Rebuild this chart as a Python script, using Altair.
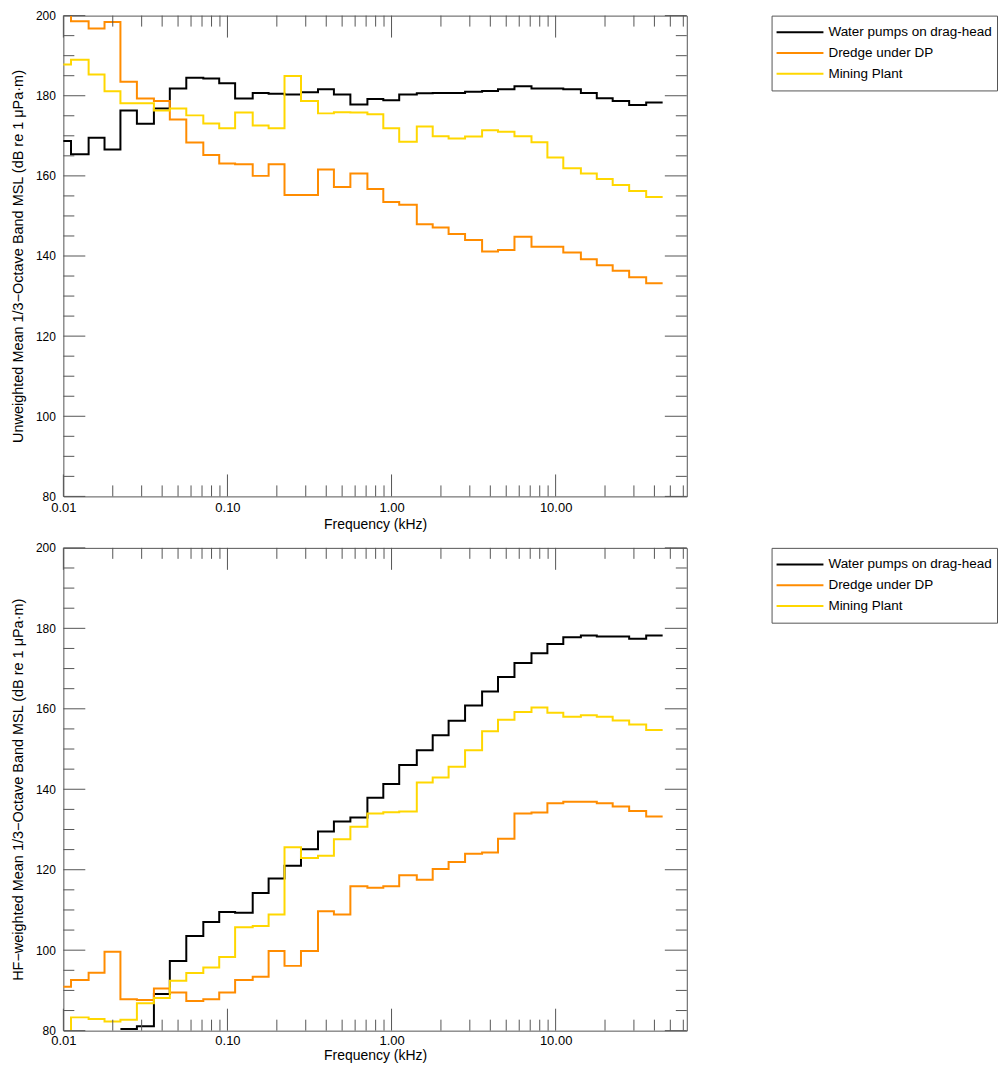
import altair as alt
import pandas as pd

# ---------------- data ----------------
FREQ_KHZ = [0.01, 0.0125, 0.016, 0.02, 0.025, 0.0315, 0.04, 0.05, 0.063, 0.08,
            0.1, 0.125, 0.16, 0.2, 0.25, 0.315, 0.4, 0.5, 0.63, 0.8,
            1.0, 1.25, 1.6, 2.0, 2.5, 3.15, 4.0, 5.0, 6.3, 8.0,
            10.0, 12.5, 16.0, 20.0, 25.0, 31.5, 40.0]

SERIES = ["Water pumps on drag-head", "Dredge under DP", "Mining Plant"]
COLORS = ["#000000", "#FF8C00", "#FFD700"]

# Unweighted (top panel)
TOP_PUMPS = [168.7, 165.4, 169.5, 166.6, 176.3, 173.0, 176.8, 181.8, 184.5, 184.3,
             183.1, 179.3, 180.7, 180.5, 180.3, 180.9, 181.6, 180.3, 177.8, 179.2,
             178.9, 180.3, 180.6, 180.7, 180.7, 181.0, 181.2, 181.6, 182.4, 181.8,
             181.8, 181.6, 180.7, 179.4, 178.7, 177.7, 178.3]
TOP_DREDGE = [201.0, 198.6, 196.8, 198.4, 183.5, 179.3, 178.7, 174.1, 168.3, 165.2,
              163.1, 162.9, 160.0, 162.9, 155.2, 155.2, 161.6, 157.2, 160.6, 156.7,
              153.5, 152.8, 147.9, 147.1, 145.5, 144.0, 141.1, 141.5, 144.8, 142.3,
              142.3, 140.9, 139.2, 137.7, 136.3, 134.7, 133.2]
TOP_MINING = [187.8, 189.0, 185.3, 181.1, 178.1, 178.1, 176.3, 176.8, 175.1, 173.1,
              171.9, 175.8, 172.6, 171.9, 184.9, 178.7, 175.6, 175.9, 175.8, 175.4,
              171.9, 168.5, 172.3, 169.9, 169.3, 169.8, 171.4, 171.0, 169.9, 168.4,
              164.6, 161.9, 160.6, 159.2, 157.7, 156.2, 154.7]

# HF-weighted (bottom panel)
BOT_PUMPS = [None, None, None, None, 80.4, 81.1, 89.1, 97.3, 103.5, 107.0,
             109.5, 109.3, 114.2, 117.8, 121.0, 125.1, 129.5, 132.0, 133.0, 137.9,
             141.3, 146.0, 149.7, 153.4, 157.0, 160.8, 164.3, 167.9, 171.4, 173.8,
             176.1, 177.8, 178.2, 178.0, 178.0, 177.4, 178.2]
BOT_DREDGE = [90.9, 92.6, 94.4, 99.6, 87.8, 87.6, 90.5, 89.5, 87.4, 87.8,
              89.5, 92.6, 93.4, 99.8, 96.1, 99.8, 109.7, 108.9, 115.9, 115.5,
              115.9, 118.6, 117.5, 120.2, 121.9, 124.0, 124.3, 127.7, 134.0, 134.2,
              136.5, 136.9, 136.9, 136.5, 135.7, 134.6, 133.2]
BOT_MINING = [79.0, 83.3, 82.9, 82.3, 82.7, 86.8, 88.1, 92.4, 94.3, 95.7,
              98.3, 105.7, 106.0, 108.9, 125.6, 122.9, 123.5, 127.6, 130.7, 134.0,
              134.3, 134.5, 141.7, 142.9, 145.6, 149.7, 154.4, 157.3, 159.2, 160.3,
              159.0, 158.0, 158.4, 158.0, 157.1, 156.1, 154.7]

Y_MAJOR = [80, 100, 120, 140, 160, 180, 200]
Y_MINOR = [85, 90, 95, 105, 110, 115, 125, 130, 135, 145, 150, 155,
           165, 170, 175, 185, 190, 195]
X_MAJOR = [0.01, 0.1, 1.0, 10.0]
X_MINOR = [0.02, 0.03, 0.04, 0.05, 0.06, 0.07, 0.08, 0.09,
           0.2, 0.3, 0.4, 0.5, 0.6, 0.7, 0.8, 0.9,
           2, 3, 4, 5, 6, 7, 8, 9,
           20, 30, 40, 50, 60]

TOP_YTITLE = "Unweighted Mean 1/3\u2212Octave Band MSL (dB re 1 \u03bcPa\u00b7m)"
BOT_YTITLE = "HF\u2212weighted Mean 1/3\u2212Octave Band MSL (dB re 1 \u03bcPa\u00b7m)"

# ---------------- style ----------------
FONT = "Liberation Sans"
AXC = "#555555"
W = 625
X_DOMAIN = [0.01, 63]
Y_DOMAIN = [80, 200]
MAJ_LEN = 22
MIN_LEN = 11


def step_frame(series_vals):
    rows = []
    half = 2 ** (1 / 6)
    for name, vals in zip(SERIES, series_vals):
        for f, v in zip(FREQ_KHZ, vals):
            rows.append({"series": name, "f": f / half, "v": v})
        rows.append({"series": name, "f": FREQ_KHZ[-1] * half, "v": vals[-1]})
    return pd.DataFrame(rows)


def panel(series_vals, ytitle, h, lab_pad, title_pad):
    xs = alt.Scale(type="log", domain=X_DOMAIN, nice=False)
    ys = alt.Scale(domain=Y_DOMAIN, nice=False, zero=False)
    lines = alt.Chart(step_frame(series_vals)).mark_line(
        interpolate="step-after", strokeWidth=2, clip=True
    ).encode(
        x=alt.X("f:Q", scale=xs, axis=alt.Axis(
            values=X_MAJOR, format=".2f", title="Frequency (kHz)",
            ticks=False, tickSize=0, domain=False, grid=False,
            labelFontSize=13, titleFontSize=14,
            labelPadding=lab_pad, titlePadding=title_pad,
            labelFlush=False, labelOverlap=False)),
        y=alt.Y("v:Q", scale=ys, axis=alt.Axis(
            values=Y_MAJOR, format="d", title=ytitle,
            ticks=False, tickSize=0, domain=False, grid=False,
            labelFontSize=12, titleFontSize=14.5,
            labelPadding=8, titlePadding=10, labelFlush=False, labelOverlap=False)),
        color=alt.Color("series:N", scale=alt.Scale(domain=SERIES, range=COLORS),
                        legend=None),
    )
    layers = []
    for vals, L in [(Y_MAJOR, MAJ_LEN), (Y_MINOR, MIN_LEN)]:
        base = alt.Chart(pd.DataFrame({"v": vals})).mark_rule(color=AXC, strokeWidth=1)
        layers.append(base.encode(y="v:Q", x=alt.value(0), x2=alt.value(L)))
        layers.append(base.encode(y="v:Q", x=alt.value(W - L), x2=alt.value(W)))
    for vals, L in [(X_MAJOR, MAJ_LEN), (X_MINOR, MIN_LEN)]:
        base = alt.Chart(pd.DataFrame({"f": vals})).mark_rule(color=AXC, strokeWidth=1)
        layers.append(base.encode(x="f:Q", y=alt.value(h - L), y2=alt.value(h)))
        layers.append(base.encode(x="f:Q", y=alt.value(0), y2=alt.value(L)))
    return alt.layer(lines, *layers).properties(width=W, height=h)


def legend_box():
    d = pd.DataFrame({"series": SERIES})
    ys = alt.Scale(type="point", domain=SERIES, padding=0.8)
    rules = alt.Chart(d).mark_rule(strokeWidth=2).encode(
        y=alt.Y("series:N", scale=ys, axis=None),
        x=alt.value(5), x2=alt.value(52),
        color=alt.Color("series:N", scale=alt.Scale(domain=SERIES, range=COLORS),
                        legend=None),
    )
    texts = alt.Chart(d).mark_text(
        align="left", baseline="middle", font=FONT, fontSize=13.5, color="black"
    ).encode(
        y=alt.Y("series:N", scale=ys, axis=None),
        x=alt.value(57),
        text="series:N",
    )
    return alt.layer(rules, texts).properties(width=226, height=75)


top = alt.hconcat(panel([TOP_PUMPS, TOP_DREDGE, TOP_MINING], TOP_YTITLE, 482, 5, 3),
                  legend_box(), spacing=83)
bot = alt.hconcat(panel([BOT_PUMPS, BOT_DREDGE, BOT_MINING], BOT_YTITLE, 484, 4, 1),
                  legend_box(), spacing=83)

chart = alt.vconcat(top, bot, spacing=8.6).properties(
    padding={"left": 1.5, "top": -0.7, "right": 0, "bottom": 0}
).configure_view(
    stroke=AXC, strokeWidth=1
).configure_axis(
    labelFont=FONT, titleFont=FONT,
    labelColor="black", titleColor="black", titleFontWeight="normal"
)

chart.save("out.html", embed_options={"renderer": "svg", "actions": False})
